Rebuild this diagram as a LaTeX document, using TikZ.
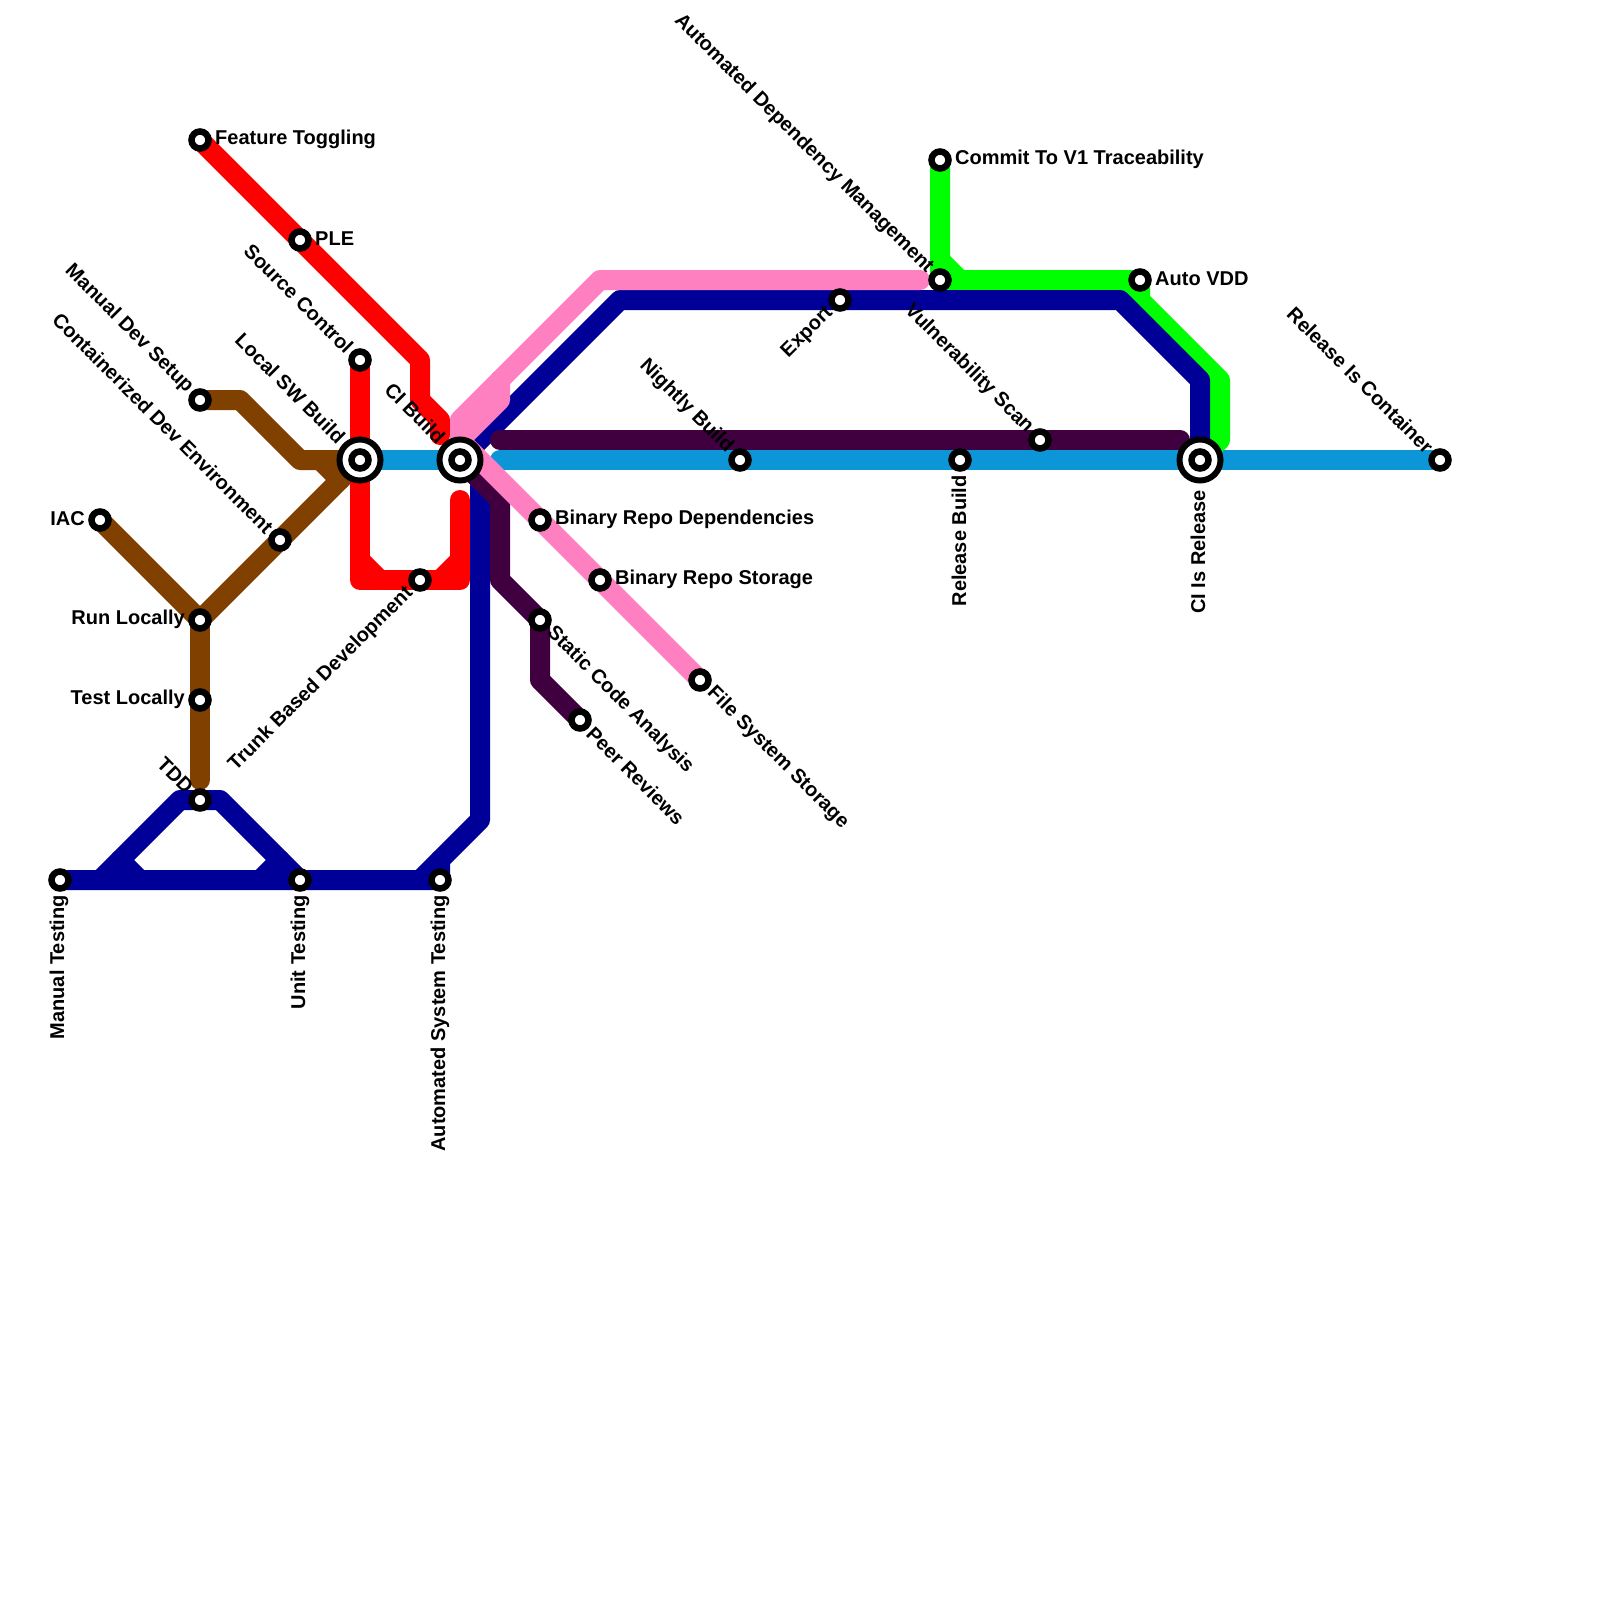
\documentclass[tikz,border=0pt]{standalone}
\usepackage{fontspec}
\setmainfont{Liberation Sans}
\usetikzlibrary{backgrounds}
\definecolor{lnpink}{HTML}{FF80C0}
\definecolor{lnblue}{HTML}{000099}
\definecolor{lnbrown}{HTML}{804000}
\definecolor{lnplum}{HTML}{400040}
\definecolor{lncyan}{HTML}{0C96D8}
\definecolor{lngreen}{HTML}{00FF00}
\definecolor{lnred}{HTML}{FF0000}
\tikzset{
  metro/.style={line width=20pt,line join=round,line cap=round},
  stn/.style={circle,draw=black,fill=white,line width=6.5pt,minimum size=17pt,inner sep=0pt,outer sep=0pt},
  hub/.style={circle,draw=black,fill=white,line width=6pt,minimum size=41pt,inner sep=0pt,outer sep=0pt},
  lbl/.style={font=\fontsize{20}{22}\selectfont\bfseries,inner sep=0pt,text=black},
  dr/.style={lbl,rotate=-45,anchor=east},
  ur/.style={lbl,rotate=45,anchor=east},
  sr/.style={lbl,rotate=-45,anchor=west},
  vr/.style={lbl,rotate=90,anchor=east},
  rr/.style={lbl,anchor=west},
  lr/.style={lbl,anchor=east},
}
\begin{document}
\begin{tikzpicture}[x=1pt,y=-1pt]
\useasboundingbox (0,0) rectangle (1600,1600);
% hubs
\node[hub] (hLSB) at (360,460) {};
\node[hub] (hCIB) at (460,460) {};
\node[hub] (hREL) at (1200,460) {};
% stations
\node[stn] (LSB) at (360,460) {};
\node[stn] (CIB) at (460,460) {};
\node[stn] (REL) at (1200,460) {};
\node[stn] (FT) at (200,140) {};
\node[stn] (PLE) at (300,240) {};
\node[stn] (SC) at (360,360) {};
\node[stn] (MDS) at (200,400) {};
\node[stn] (CDE) at (280,540) {};
\node[stn] (IAC) at (100,520) {};
\node[stn] (RUN) at (200,620) {};
\node[stn] (TST) at (200,700) {};
\node[stn] (TDD) at (200,800) {};
\node[stn] (MAN) at (60,880) {};
\node[stn] (UNI) at (300,880) {};
\node[stn] (AST) at (440,880) {};
\node[stn] (TBD) at (420,580) {};
\node[stn] (BRD) at (540,520) {};
\node[stn] (BRS) at (600,580) {};
\node[stn] (SCA) at (540,620) {};
\node[stn] (PEE) at (580,720) {};
\node[stn] (FSS) at (700,680) {};
\node[stn] (NIG) at (740,460) {};
\node[stn] (EXP) at (840,300) {};
\node[stn] (ADM) at (940,280) {};
\node[stn] (CMT) at (940,160) {};
\node[stn] (VDD) at (1140,280) {};
\node[stn] (RLB) at (960,460) {};
\node[stn] (VUL) at (1040,440) {};
\node[stn] (RIC) at (1440,460) {};
% labels
\node[rr] (tFT) at ([shift={(15,-1)}]FT.center) {Feature Toggling};
\node[rr] (tPLE) at ([shift={(15,-1.5)}]PLE.center) {PLE};
\node[rr] (tBRD) at ([shift={(15,-1)}]BRD.center) {Binary Repo Dependencies};
\node[rr] (tBRS) at ([shift={(15,-1)}]BRS.center) {Binary Repo Storage};
\node[rr] (tCMT) at ([shift={(15,-1)}]CMT.center) {Commit To V1 Traceability};
\node[rr] (tVDD) at ([shift={(15,-1)}]VDD.center) {Auto VDD};
\node[lr] (tIAC) at ([shift={(-15,-1.5)}]IAC.center) {IAC};
\node[lr] (tRUN) at ([shift={(-15,-1)}]RUN.center) {Run Locally};
\node[lr] (tTST) at ([shift={(-15,-1)}]TST.center) {Test Locally};
\node[dr] (tSC) at ([shift={(-10,-10)}]SC.center) {Source Control};
\node[dr] (tMDS) at ([shift={(-10,-10)}]MDS.center) {Manual Dev Setup};
\node[dr] (tCDE) at ([shift={(-10,-10)}]CDE.center) {Containerized Dev Environment};
\node[dr] (tLSB) at ([shift={(-18,-20)}]LSB.center) {Local SW Build};
\node[dr] (tCIB) at ([shift={(-18,-20)}]CIB.center) {CI Build};
\node[dr] (tTDD) at ([shift={(-10,-10)}]TDD.center) {TDD};
\node[dr] (tNIG) at ([shift={(-10,-10)}]NIG.center) {Nightly Build};
\node[dr] (tADM) at ([shift={(-10,-10)}]ADM.center) {Automated Dependency Management};
\node[dr] (tVUL) at ([shift={(-10,-10)}]VUL.center) {Vulnerability Scan};
\node[dr] (tRIC) at ([shift={(-10,-10)}]RIC.center) {Release Is Container};
\node[ur] (tTBD) at ([shift={(-10,10)}]TBD.center) {Trunk Based Development};
\node[ur] (tEXP) at ([shift={(-10,10)}]EXP.center) {Export};
\node[sr] (tSCA) at ([shift={(10,10)}]SCA.center) {Static Code Analysis};
\node[sr] (tPEE) at ([shift={(10,10)}]PEE.center) {Peer Reviews};
\node[sr] (tFSS) at ([shift={(10,10)}]FSS.center) {File System Storage};
\node[vr] (tMAN) at ([shift={(-1,15)}]MAN.center) {Manual Testing};
\node[vr] (tUNI) at ([shift={(0,15)}]UNI.center) {Unit Testing};
\node[vr] (tAST) at ([shift={(0,15)}]AST.center) {Automated System Testing};
\node[vr] (tRLB) at ([shift={(-1,15)}]RLB.center) {Release Build};
\node[vr] (tREL) at ([shift={(-2,30)}]REL.center) {CI Is Release};
\begin{pgfonlayer}{background}
% cyan
\draw[metro,lncyan] (LSB.center) -- (CIB.center);
\draw[metro,lncyan] (500,460) -- (NIG.center) -- (RLB.center) -- (REL.center) -- (RIC.center);
% green
\draw[metro,lngreen] (CMT.center) -- (ADM.center) -- (VDD.center) -- (1140,300) -- (1220,380) -- (1220,440) -- (REL.center);
\draw[metro,lngreen] (940,260) -- (960,280);
\draw[metro,lngreen] (1120,280) -- (1140,300);
% brown
\draw[metro,lnbrown] (MDS.center) -- (240,400) -- (300,460) -- (LSB.center);
\draw[metro,lnbrown] (320,460) -- (340,480);
\draw[metro,lnbrown] (IAC.center) -- (RUN.center) -- (CDE.center) -- (LSB.center);
\draw[metro,lnbrown] (RUN.center) -- (TST.center) -- (200,780);
% red
\draw[metro,lnred] (FT.center) -- (PLE.center) -- (420,360) -- (420,400) -- (440,420) -- (440,435);
\draw[metro,lnred] (SC.center) -- (LSB.center) -- (360,580) -- (TBD.center) -- (460,580) -- (460,500);
\draw[metro,lnred] (360,560) -- (380,580);
\draw[metro,lnred] (460,560) -- (440,580);
% blue
\draw[metro,lnblue] (MAN.center) -- (UNI.center) -- (AST.center) -- (440,860) -- (480,820) -- (480,480) -- (CIB.center) -- (620,300) -- (EXP.center) -- (1120,300) -- (REL.center |- 0,380) -- (REL.center);
\draw[metro,lnblue] (420,880) -- (440,860);
\draw[metro,lnblue] (100,880) -- (180,800) -- (TDD.center) -- (220,800) -- (UNI.center);
\draw[metro,lnblue] (120,860) -- (140,880);
\draw[metro,lnblue] (280,860) -- (260,880);
% plum
\draw[metro,lnplum] (500,440) -- (VUL.center) -- (1180,440);
\draw[metro,lnplum] (CIB.center) -- (500,500) -- (500,580) -- (SCA.center) -- (540,680) -- (PEE.center);
% pink
\draw[metro,lnpink] (920,280) -- (600,280) -- (460,420) -- (460,440) -- (BRD.center) -- (BRS.center) -- (FSS.center);
\draw[metro,lnpink] (500,380) -- (500,400) -- (460,440);
\end{pgfonlayer}
\end{tikzpicture}
\end{document}
